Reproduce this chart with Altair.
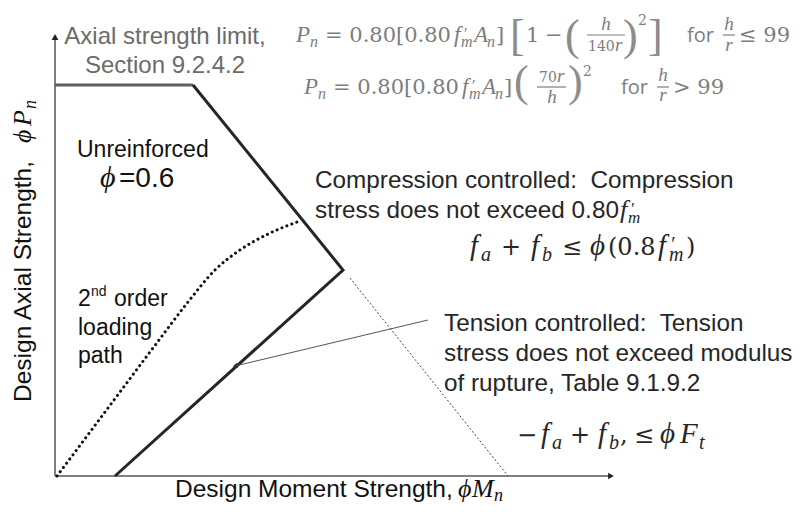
import math
import altair as alt
import pandas as pd

# ---------------- data (abstract strength units: M = moment, P = axial) ----------------
# axial strength limit (horizontal cap)
limit_M = [0, 138]
limit_P = [391, 391]
# interaction envelope: compression-controlled branch then tension-controlled branch
env_M = [138, 288, 60]
env_P = [391, 206, 0]
# extension of the compression line (thin dotted)
ext_M = [295, 453]
ext_P = [198, 0]
# 2nd order loading path (dotted curve)
path_M = [2, 35, 68, 101, 133, 160, 185, 213, 245]
path_P = [0, 44, 88, 132, 174, 206, 226, 242, 255]
# callout arrow for the tension-controlled note
arrow_M = [373, 180]
arrow_P = [156, 110]
# axis extents
axis_M_max = 556
axis_P_max = 439

SANS = "Liberation Sans, Arial, sans-serif"
SERIF = "Liberation Serif, Times New Roman, serif"
MATH = "DejaVu Serif, serif"
OPEN = "Open Sans, Segoe UI, sans-serif"
FG = "#262626"
DARK = "#111111"
GRAYT = "#6b6b6b"
FML = "#7d7d7d"

STYLES = {
    "sans": dict(font=SANS, fontSize=24.3, color=FG),
    "sansL": dict(font=SANS, fontSize=23, color=DARK),
    "sup": dict(font=SANS, fontSize=14, color=DARK),
    "phi06": dict(font=SANS, fontSize=28, color=DARK),
    "phiit": dict(font=SERIF, fontSize=30, fontStyle="italic", color=DARK),
    "gray": dict(font=SANS, fontSize=24, color=GRAYT),
    "title": dict(font=SANS, fontSize=24.5, color=DARK),
    "title_it": dict(font=SERIF, fontSize=26, fontStyle="italic", color=DARK),
    "title_sub": dict(font=SERIF, fontSize=18, fontStyle="italic", color=DARK),
    "f_up": dict(font=MATH, fontSize=21, color=FML),
    "f_it": dict(font=SERIF, fontSize=23, fontStyle="italic", color=FML),
    "f_it2": dict(font=SERIF, fontSize=19, fontStyle="italic", color=FML),
    "f_sub": dict(font=SERIF, fontSize=16, fontStyle="italic", color=FML),
    "f_small": dict(font=MATH, fontSize=14, color=FML),
    "f_big": dict(font=SERIF, fontSize=44, color="#8c8c8c"),
    "f_for": dict(font=OPEN, fontSize=20, color=FML),
    "e_up": dict(font=MATH, fontSize=24, color=FG),
    "e_it": dict(font=SERIF, fontSize=29, fontStyle="italic", color=FG),
    "e_sub": dict(font=SERIF, fontSize=20, fontStyle="italic", color=FG),
    "s_it": dict(font=SERIF, fontSize=26, fontStyle="italic", color=FG),
    "s_sub": dict(font=SERIF, fontSize=17, fontStyle="italic", color=FG),
}

# annotation pieces: (text, M, P, style, align, angle)
pieces = [
    # top formula, line 1
    ("P", 241, 434, "f_it", "left", 0),
    ("n", 255, 429, "f_sub", "left", 0),
    ("= 0.80[0.80", 270, 434, "f_up", "left", 0),
    ("f", 399, 434, "f_it", "left", 0),
    ("\u2032", 408, 437, "f_sub", "left", 0),
    ("m", 406, 429, "f_sub", "left", 0),
    ("A", 419, 434, "f_it", "left", 0),
    ("n", 432, 429, "f_sub", "left", 0),
    ("]", 441, 434, "f_up", "left", 0),
    ("[", 455, 426, "f_big", "left", 0),
    ("1", 471, 434, "f_up", "left", 0),
    ("\u2212", 490, 434, "f_up", "left", 0),
    ("(", 510, 426, "f_big", "left", 0),
    ("h", 551, 446, "f_it2", "center", 0),
    ("140", 533, 425, "f_small", "left", 0),
    ("r", 560, 425, "f_it2", "left", 0),
    (")", 568, 426, "f_big", "left", 0),
    ("2", 583, 451, "f_small", "left", 0),
    ("]", 593, 426, "f_big", "left", 0),
    ("for", 632, 434, "f_for", "left", 0),
    ("h", 674, 446, "f_it2", "center", 0),
    ("r", 674, 425, "f_it2", "center", 0),
    ("\u2264 99", 684, 434, "f_up", "left", 0),
    # top formula, line 2
    ("P", 249, 382, "f_it", "left", 0),
    ("n", 263, 377, "f_sub", "left", 0),
    ("= 0.80[0.80", 278, 382, "f_up", "left", 0),
    ("f", 407, 382, "f_it", "left", 0),
    ("\u2032", 416, 385, "f_sub", "left", 0),
    ("m", 414, 377, "f_sub", "left", 0),
    ("A", 427, 382, "f_it", "left", 0),
    ("n", 440, 377, "f_sub", "left", 0),
    ("]", 449, 382, "f_up", "left", 0),
    ("(", 459, 380, "f_big", "left", 0),
    ("70", 484, 394, "f_small", "left", 0),
    ("r", 502, 394, "f_it2", "left", 0),
    ("h", 497, 373, "f_it2", "center", 0),
    (")", 513, 380, "f_big", "left", 0),
    ("2", 528, 400, "f_small", "left", 0),
    ("for", 566, 382, "f_for", "left", 0),
    ("h", 608, 395, "f_it2", "center", 0),
    ("r", 608, 375, "f_it2", "center", 0),
    ("> 99", 618, 382, "f_up", "left", 0),
    # axial strength limit note
    ("Axial strength limit,", 110, 432, "gray", "center", 0),
    ("Section 9.2.4.2", 110, 403, "gray", "center", 0),
    # unreinforced
    ("Unreinforced", 22, 319, "sansL", "left", 0),
    ("\u03d5", 45, 289, "phiit", "left", 0),
    ("=0.6", 64, 289, "phi06", "left", 0),
    # 2nd order loading path
    ("2", 23, 170, "sansL", "left", 0),
    ("nd", 36, 180, "sup", "left", 0),
    ("order", 59, 170, "sansL", "left", 0),
    ("loading", 23, 141, "sansL", "left", 0),
    ("path", 23, 113, "sansL", "left", 0),
    # compression controlled
    ("Compression controlled:\u00a0 Compression", 260, 288, "sans", "left", 0),
    ("stress does not exceed 0.80", 260, 258, "sans", "left", 0),
    ("f", 565, 258, "s_it", "left", 0),
    ("\u2032", 575, 262, "s_sub", "left", 0),
    ("m", 573, 253, "s_sub", "left", 0),
    ("f", 415, 221, "e_it", "left", 0),
    ("a", 426, 215, "e_sub", "left", 0),
    ("+", 446, 221, "e_up", "left", 0),
    ("f", 476, 221, "e_it", "left", 0),
    ("b", 487, 215, "e_sub", "left", 0),
    ("\u2264", 507, 221, "e_up", "left", 0),
    ("\u03d5", 535, 221, "e_it", "left", 0),
    ("(0.8", 553, 221, "e_up", "left", 0),
    ("f", 603, 221, "e_it", "left", 0),
    ("\u2032", 615, 225, "e_sub", "left", 0),
    ("m", 614, 215, "e_sub", "left", 0),
    (")", 631, 221, "e_up", "left", 0),
    # tension controlled
    ("Tension controlled:\u00a0 Tension", 389, 145, "sans", "left", 0),
    ("stress does not exceed modulus", 389, 115, "sans", "left", 0),
    ("of rupture, Table 9.1.9.2", 389, 85, "sans", "left", 0),
    ("\u2212", 462, 33, "e_up", "left", 0),
    ("f", 486, 33, "e_it", "left", 0),
    ("a", 497, 27, "e_sub", "left", 0),
    ("+", 515, 33, "e_up", "left", 0),
    ("f", 543, 33, "e_it", "left", 0),
    ("b", 554, 27, "e_sub", "left", 0),
    (",", 565, 33, "e_up", "left", 0),
    ("\u2264", 579, 33, "e_up", "left", 0),
    ("\u03d5", 605, 33, "e_it", "left", 0),
    ("F", 625, 33, "e_it", "left", 0),
    ("t", 644, 27, "e_sub", "left", 0),
    # axis titles
    ("Design Moment Strength,", 120, -21, "title", "left", 0),
    ("\u03d5", 403, -21, "title_it", "left", 0),
    ("M", 417, -21, "title_it", "left", 0),
    ("n", 439, -25, "title_sub", "left", 0),
    ("Design Axial Strength,", -24, 74, "title", "left", 270),
    ("\u03d5", -24, 333, "title_it", "left", 270),
    ("P", -24, 350, "title_it", "left", 270),
    ("n", -19, 367, "title_sub", "left", 270),
]

# fraction bars: (M start, M end, P)
frac_M1 = [532, 668, 482, 602]
frac_M2 = [570, 680, 511, 614]
frac_P = [441, 441, 389, 389]

# ---------------- chart ----------------
xs = alt.Scale(domain=[0, 560], nice=False, zero=False)
ys = alt.Scale(domain=[0, 443], nice=False, zero=False)
X = alt.X("M:Q", scale=xs, axis=None)
Y = alt.Y("P:Q", scale=ys, axis=None)

layers = []

# axes
axes_df = pd.DataFrame({"M": [0, 0], "P": [0, 0], "M2": [axis_M_max, 0], "P2": [0, axis_P_max]})
layers.append(
    alt.Chart(axes_df).mark_rule(color="#808080", strokeWidth=2).encode(
        x=X, y=Y, x2="M2:Q", y2="P2:Q"
    )
)
heads = pd.DataFrame({"M": [axis_M_max, 0], "P": [0, axis_P_max], "shape": ["triangle-right", "triangle-up"]})
layers.append(
    alt.Chart(heads).mark_point(filled=True, size=45, color="#222", opacity=1).encode(
        x=X, y=Y, shape=alt.Shape("shape:N", scale=None, legend=None)
    )
)

# compression-line extension (thin dotted)
layers.append(
    alt.Chart(pd.DataFrame({"M": ext_M, "P": ext_P})).mark_line(
        color="#444", strokeWidth=1, strokeDash=[2, 2]
    ).encode(x=X, y=Y)
)

# 2nd order loading path
layers.append(
    alt.Chart(pd.DataFrame({"M": path_M, "P": path_P, "i": range(len(path_M))})).mark_line(
        color="#111", strokeWidth=3, strokeDash=[0.1, 5.2], strokeCap="round", interpolate="monotone"
    ).encode(x=X, y=Y, order="i:Q")
)

# axial strength limit and interaction envelope
layers.append(
    alt.Chart(pd.DataFrame({"M": limit_M, "P": limit_P})).mark_line(
        color="#5f5f5f", strokeWidth=3
    ).encode(x=X, y=Y)
)
layers.append(
    alt.Chart(pd.DataFrame({"M": env_M, "P": env_P, "i": range(len(env_M))})).mark_line(
        color="#262626", strokeWidth=3, strokeJoin="miter"
    ).encode(x=X, y=Y, order="i:Q")
)

# callout arrow
layers.append(
    alt.Chart(pd.DataFrame({"M": arrow_M, "P": arrow_P, "i": [0, 1]})).mark_line(
        color="#555", strokeWidth=1
    ).encode(x=X, y=Y, order="i:Q")
)
dx = arrow_M[1] - arrow_M[0]
dy = -(arrow_P[1] - arrow_P[0])
ang = (math.degrees(math.atan2(dx, -dy)) + 360) % 360
layers.append(
    alt.Chart(pd.DataFrame({"M": [arrow_M[1]], "P": [arrow_P[1]]})).mark_point(
        shape="triangle-up", filled=True, size=30, color="#333", opacity=1, angle=ang
    ).encode(x=X, y=Y)
)

# fraction bars
layers.append(
    alt.Chart(pd.DataFrame({"M": frac_M1, "M2": frac_M2, "P": frac_P})).mark_rule(
        color=FML, strokeWidth=1.2
    ).encode(x=X, x2="M2:Q", y=Y)
)

# text pieces
tdf = pd.DataFrame(pieces, columns=["t", "M", "P", "style", "align", "angle"])
for (style, align, angle), g in tdf.groupby(["style", "align", "angle"]):
    st = STYLES[style]
    layers.append(
        alt.Chart(g[["t", "M", "P"]].reset_index(drop=True)).mark_text(
            align=align, baseline="alphabetic", angle=int(angle), **st
        ).encode(x=X, y=Y, text="t:N")
    )

chart = alt.layer(*layers).properties(
    width=560,
    height=443,
    autosize=alt.AutoSizeParams(type="none"),
    padding={"left": 47, "top": 25, "right": 179, "bottom": 28},
).configure_view(stroke=None)

chart.save("out.html", embed_options={"renderer": "svg", "actions": False})
